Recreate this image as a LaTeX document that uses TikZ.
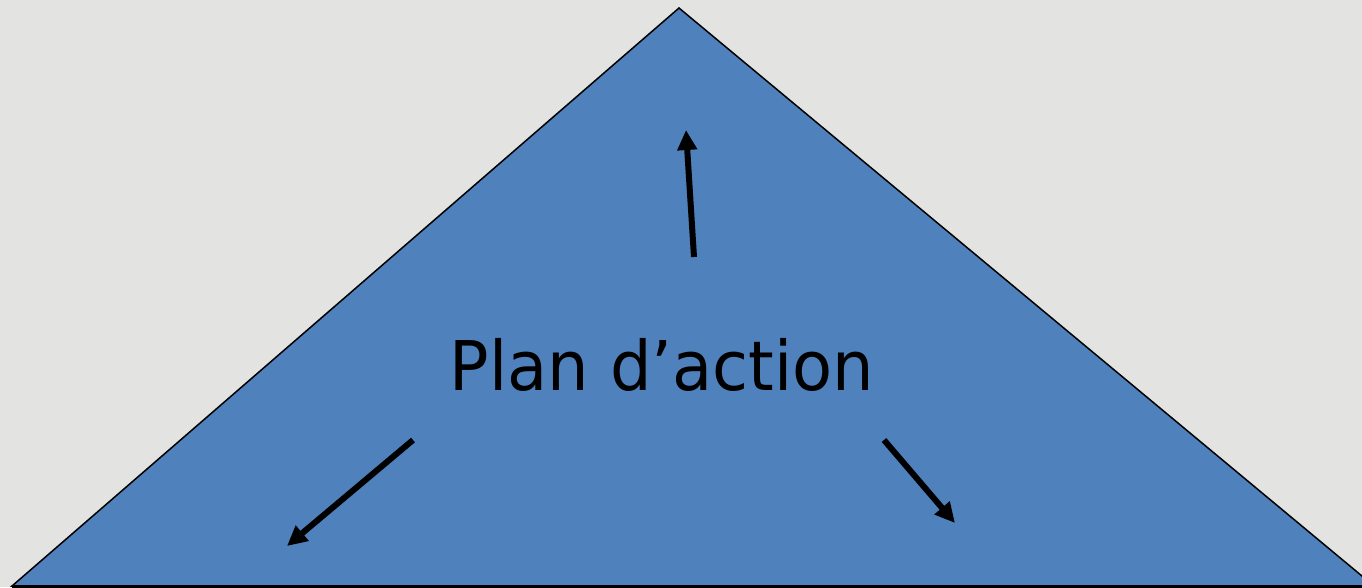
\documentclass[tikz,border=0pt]{standalone}
\usepackage{fontspec}
\setmainfont{DejaVu Sans}
\usetikzlibrary{arrows.meta}
\definecolor{bg}{HTML}{E3E3E1}
\definecolor{tri}{HTML}{4F81BD}
\begin{document}
\begin{tikzpicture}[x=0.01cm,y=-0.01cm,
  arr/.style={line width=0.06cm,-{Triangle[length=0.2cm,width=0.19cm]}}]
\useasboundingbox (0,0) rectangle (1362,587);
\fill[bg] (0,0) rectangle (1362,587);
\coordinate (apex) at (679,8);
\coordinate (bl) at (12,586);
\coordinate (br) at (1374,586);
\filldraw[fill=tri,draw=black,line width=0.015cm] (apex) -- (bl) -- (br) -- cycle;
\draw[line width=0.03cm] (bl) -- (br);
\node[anchor=base,inner sep=0,font=\fontsize{19.5}{22}\selectfont,xscale=0.955] (label) at (662,390) {Plan d’action};
\coordinate (u1) at (694,257); \coordinate (u2) at (686,130);
\coordinate (l1) at (413,440); \coordinate (l2) at (287,546);
\coordinate (r1) at (884,440); \coordinate (r2) at (955,523);
\draw[arr] (u1) -- (u2);
\draw[arr] (l1) -- (l2);
\draw[arr] (r1) -- (r2);
\end{tikzpicture}
\end{document}
